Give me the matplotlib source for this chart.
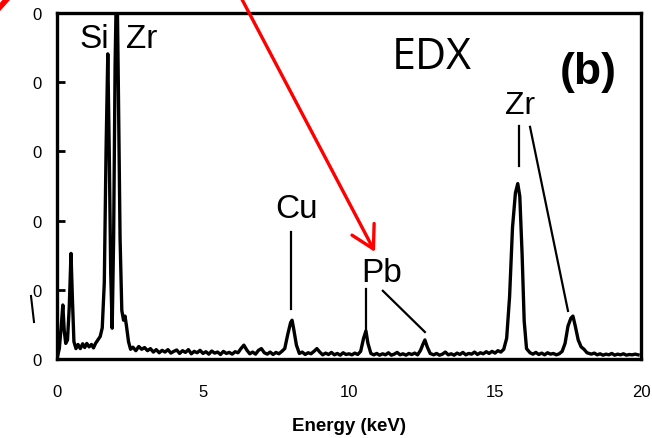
import matplotlib.pyplot as plt
from matplotlib.lines import Line2D

plt.rcParams['font.family'] = ['Liberation Sans', 'DejaVu Sans']

# EDX spectrum (energy in keV, counts in arbitrary units)
energy = [0.00, 0.08, 0.15, 0.20, 0.25, 0.30, 0.36, 0.42, 0.48, 0.53, 0.58, 0.65,
          0.72, 0.80, 0.88, 0.95, 1.02, 1.10, 1.18, 1.25, 1.32, 1.40, 1.48, 1.55,
          1.62, 1.68, 1.74, 1.79, 1.84, 1.89, 1.94, 1.99, 2.05, 2.10, 2.16, 2.22,
          2.28, 2.33, 2.38, 2.45, 2.52,
          2.6, 2.7, 2.8, 2.9, 3.0, 3.1, 3.2, 3.3, 3.4, 3.5, 3.6, 3.7, 3.8, 3.9,
          4.0, 4.1, 4.2, 4.3, 4.4, 4.5, 4.6, 4.7, 4.8, 4.9, 5.0, 5.1, 5.2, 5.3,
          5.4, 5.5, 5.6, 5.7, 5.8, 5.9, 6.0, 6.1, 6.2, 6.3, 6.4, 6.5, 6.6, 6.7,
          6.8, 6.9, 7.0, 7.1, 7.2, 7.3, 7.4, 7.5, 7.6, 7.7, 7.8, 7.9, 8.0, 8.05,
          8.1, 8.2, 8.3, 8.4, 8.5, 8.6, 8.7, 8.8, 8.9, 9.0, 9.1, 9.2, 9.3, 9.4,
          9.5, 9.6, 9.7, 9.8, 9.9, 10.0, 10.1, 10.2, 10.3, 10.4, 10.5, 10.58,
          10.65, 10.75, 10.85, 10.95, 11.05, 11.15, 11.25, 11.35, 11.45, 11.55,
          11.65, 11.75, 11.85, 11.95, 12.05, 12.15, 12.25, 12.35, 12.45, 12.53,
          12.6, 12.68, 12.78, 12.9, 13.0, 13.1, 13.2, 13.3, 13.4, 13.5, 13.6,
          13.7, 13.8, 13.9, 14.0, 14.1, 14.2, 14.3, 14.4, 14.5, 14.6, 14.7, 14.8,
          14.9, 15.0, 15.1, 15.2, 15.3, 15.4, 15.5, 15.6, 15.7, 15.78, 15.85,
          15.93, 16.0, 16.08, 16.2, 16.3, 16.4, 16.5, 16.6, 16.7, 16.8, 16.9,
          17.0, 17.1, 17.2, 17.3, 17.4, 17.5, 17.6, 17.67, 17.75, 17.85, 17.95,
          18.05, 18.15, 18.3, 18.4, 18.5, 18.6, 18.7, 18.8, 18.9, 19.0, 19.1,
          19.2, 19.3, 19.4, 19.5, 19.6, 19.7, 19.8, 19.9]
counts = [0, 30, 100, 156, 80, 45, 55, 150, 305, 170, 50, 30,
          42, 30, 44, 33, 45, 35, 42, 32, 45, 55, 65, 90,
          220, 600, 882, 600, 250, 89, 350, 850, 1150, 800, 350, 140,
          112, 124, 95, 50, 28,
          34, 24, 36, 28, 33, 24, 30, 20, 27, 18, 25, 20, 27, 17,
          22, 26, 16, 24, 19, 27, 15, 22, 18, 25, 16, 21, 14, 23,
          17, 20, 13, 22, 16, 19, 14, 21, 18, 30, 40, 26, 15, 20,
          14, 25, 30, 18, 14, 20, 13, 19, 15, 22, 30, 70, 105, 112,
          90, 40, 16, 20, 13, 18, 15, 22, 30, 20, 12, 17, 13, 19,
          12, 16, 11, 18, 13, 15, 12, 17, 13, 22, 60, 81,
          45, 16, 12, 16, 11, 15, 12, 18, 11, 14,
          19, 12, 15, 11, 16, 13, 17, 12, 25, 42,
          55, 35, 16, 12, 16, 11, 14, 20, 12, 15, 11,
          17, 13, 19, 12, 16, 14, 20, 13, 18, 15, 21, 16,
          22, 17, 24, 20, 28, 60, 180, 380, 480, 507, 470,
          300, 110, 30, 18, 14, 19, 13, 17, 12, 18, 14,
          16, 12, 15, 22, 45, 95, 118, 124, 95, 55, 35,
          28, 18, 14, 17, 12, 15, 11, 14, 12, 16, 11,
          14, 12, 15, 11, 13, 12, 14, 12]

y_ticks = [0, 200, 400, 600, 800, 1000]
x_ticks = [0, 5, 10, 15, 20]

fig = plt.figure(figsize=(6.52, 4.39), dpi=100)
ax = fig.add_axes([0.0874, 0.18, 0.8957, 0.788])

ax.plot(energy, counts, color='black', lw=2.4)
ax.set_xlim(0, 20)
ax.set_ylim(0, 1000)

ax.set_xticks(x_ticks)
ax.set_yticks(y_ticks, ['0'] * len(y_ticks))
ax.tick_params(axis='both', direction='in', length=6, width=2, labelsize=12)
ax.tick_params(axis='x', pad=18, length=0)
ax.tick_params(axis='y', pad=11)
for s in ax.spines.values():
    s.set_linewidth(2.4)

ax.set_xlabel('Energy (keV)', fontsize=13.5, fontweight='bold', labelpad=13)

# peak labels and leader lines
lab = dict(fontsize=24, ha='center', va='center')
ax.text(1.27, 925, 'Si', **lab)
ax.text(2.91, 925, 'Zr', **lab)
ax.text(8.22, 434, 'Cu', **lab)
ax.text(11.13, 249, 'Pb', **lab)
ax.text(15.86, 734, 'Zr', fontsize=23, ha='center', va='center')
ax.plot([8.01, 8.01], [367, 145], color='black', lw=1.6)
ax.plot([10.58, 10.58], [202, 78], color='black', lw=1.6)
ax.plot([11.16, 12.6], [197, 78], color='black', lw=1.6)
ax.plot([15.82, 15.82], [673, 558], color='black', lw=1.6)
ax.plot([16.2, 17.5], [671, 139], color='black', lw=1.6)

ax.text(12.84, 873, 'EDX', fontsize=31, ha='center', va='center', family='Open Sans')
ax.text(18.18, 832, '(b)', fontsize=32, fontweight='bold', ha='center', va='center')

# red arrow pasted over the figure
ax.annotate('', xy=(375, 186), xycoords='figure pixels',
            xytext=(236, 450), textcoords='figure pixels',
            arrowprops=dict(arrowstyle='->,head_length=0.8,head_width=0.45',
                            color='red', lw=2.4, mutation_scale=20,
                            shrinkA=0, shrinkB=0),
            annotation_clip=False)
fig.add_artist(Line2D([0, 8], [431, 440], transform=None, color='red', lw=4))
fig.add_artist(Line2D([31, 34], [142, 116], transform=None, color='black', lw=1.5))

fig.savefig('out.png', dpi=100)
